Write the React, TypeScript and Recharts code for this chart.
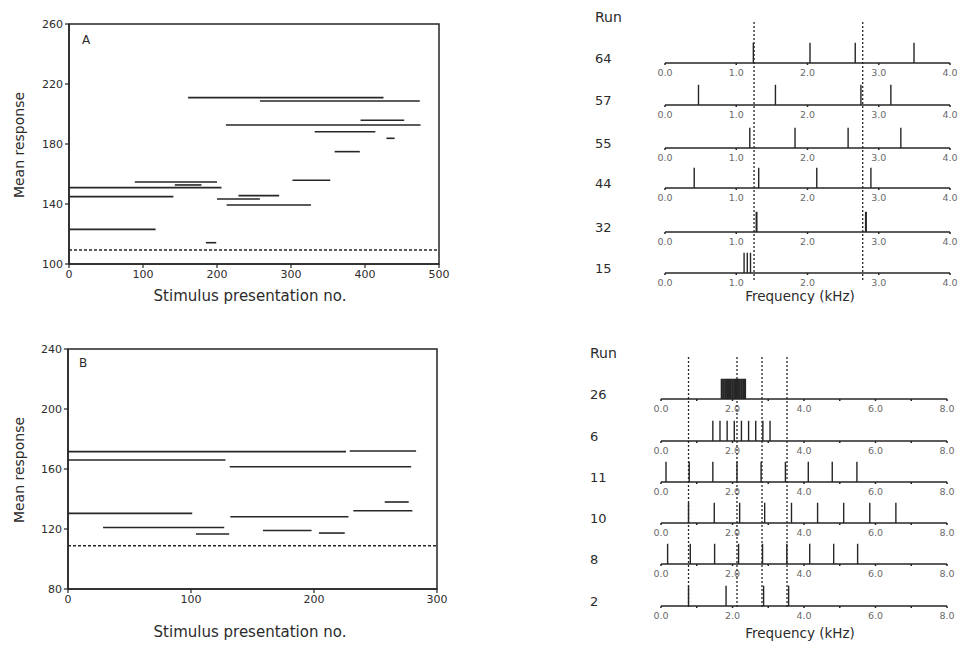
import React from 'react';
import { ComposedChart, Line, XAxis, YAxis, ReferenceArea } from 'recharts';

const FONT = '"DejaVu Sans", Verdana, sans-serif';
const INK = '#262626';

// ---------- Panel A: mean response segments ----------
const panelAStart = [161, 258, 394, 212, 332, 429, 359, 302, 89, 143, 0, 0, 229, 200, 213, 0, 185];
const panelAEnd = [425, 474, 453, 475, 414, 440, 393, 353, 200, 179, 206, 141, 284, 258, 327, 117, 199];
const panelAMean = [210.9, 208.7, 195.8, 192.7, 188.2, 183.8, 174.9, 155.8, 154.7, 152.7, 150.9, 144.9, 145.6, 143.3, 139.3, 123.1, 114.2];
const panelABaseline = 109.3;
const panelAXTicks = [0, 100, 200, 300, 400, 500];
const panelAYTicks = [100, 140, 180, 220, 260];

// ---------- Panel B: mean response segments ----------
const panelBStart = [0, 229, 0, 131.5, 257.5, 232, 0, 132, 28.5, 158.5, 204, 104];
const panelBEnd = [226, 283, 128, 279, 277, 280, 101, 228, 127, 198, 225, 131];
const panelBMean = [171.6, 172, 166, 161.5, 138, 132.2, 130.4, 128.2, 121, 119, 117.3, 116.7];
const panelBBaseline = 108.8;
const panelBXTicks = [0, 100, 200, 300];
const panelBYTicks = [80, 120, 160, 200, 240];

// ---------- Upper spectra (0-4 kHz) ----------
const upperRuns = ['64', '57', '55', '44', '32', '15'];
const run64 = [1.24, 2.035, 2.67, 3.495];
const run57 = [0.47, 1.55, 2.75, 3.17];
const run55 = [1.19, 1.825, 2.57, 3.31];
const run44 = [0.41, 1.315, 2.13, 2.89];
const run32 = [1.285, 2.82];
const run15 = [1.11, 1.155, 1.2];
const upperSpectra = [run64, run57, run55, run44, run32, run15];
const upperGuides = [1.25, 2.775];
const upperTicks = [0, 1, 2, 3, 4];

// ---------- Lower spectra (0-8 kHz) ----------
const lowerRuns = ['26', '6', '11', '10', '8', '2'];
const run26 = [1.7, 1.75, 1.8, 1.85, 1.9, 1.95, 2.0, 2.05, 2.1, 2.15, 2.2, 2.25, 2.3, 2.35];
const run6 = [1.45, 1.65, 1.85, 2.05, 2.25, 2.45, 2.65, 2.85, 3.05];
const run11 = [0.14, 0.79, 1.45, 2.125, 2.8, 3.48, 4.12, 4.79, 5.48];
const run10 = [0.77, 1.49, 2.2, 2.9, 3.65, 4.38, 5.11, 5.84, 6.57];
const run8 = [0.185, 0.82, 1.5, 2.17, 2.84, 3.52, 4.16, 4.83, 5.5];
const run2 = [0.77, 1.82, 2.87, 3.57];
const lowerSpectra = [run26, run6, run11, run10, run8, run2];
const lowerGuides = [0.77, 2.125, 2.825, 3.525];
const lowerTicks = [0, 1, 2, 3, 4, 5, 6, 7, 8];

// ---------- layout ----------
const upperBases = [63.3, 105, 147.7, 188.3, 231.7, 272.7];
const lowerBases = [399.3, 440.7, 481.7, 523.3, 564, 606];

type TextProps = { cx: number; cy: number; size: number; children: React.ReactNode; rotate?: boolean; color?: string; align?: 'left' | 'center' };

function Txt({ cx, cy, size, children, rotate, color, align }: TextProps) {
  const tx = align === 'left' ? '0' : '-50%';
  return (
    <div
      style={{
        position: 'absolute',
        left: cx,
        top: cy,
        transform: `translate(${tx}, -50%)${rotate ? ' rotate(-90deg)' : ''}`,
        fontFamily: FONT,
        fontSize: size,
        lineHeight: 1,
        color: color || '#2b2b2b',
        whiteSpace: 'nowrap',
      }}
    >
      {children}
    </div>
  );
}

type PanelProps = {
  left: number;
  top: number;
  margin: { top: number; right: number; left: number; bottom: number };
  xDomain: [number, number];
  yDomain: [number, number];
  xTicks: number[];
  yTicks: number[];
  starts: number[];
  ends: number[];
  means: number[];
  baseline: number;
};

function MeansPanel({ left, top, margin, xDomain, yDomain, xTicks, yTicks, starts, ends, means, baseline }: PanelProps) {
  const tickStyle = { fill: '#2b2b2b', fontSize: 11, fontFamily: FONT };
  return (
    <div style={{ position: 'absolute', left, top }}>
      <ComposedChart width={460} height={310} margin={margin}>
        <XAxis
          type="number"
          dataKey="x"
          domain={xDomain}
          ticks={xTicks}
          interval={0}
          height={30}
          tickSize={4}
          axisLine={{ stroke: INK, strokeWidth: 1.5 }}
          tickLine={{ stroke: INK, strokeWidth: 1.2 }}
          tick={tickStyle}
        />
        <YAxis
          type="number"
          domain={yDomain}
          ticks={yTicks}
          interval={0}
          width={40}
          tickSize={4}
          axisLine={{ stroke: INK, strokeWidth: 1.5 }}
          tickLine={{ stroke: INK, strokeWidth: 1.2 }}
          tick={tickStyle}
        />
        <ReferenceArea
          x1={xDomain[0]}
          x2={xDomain[1]}
          y1={yDomain[0]}
          y2={yDomain[1]}
          fill="none"
          fillOpacity={0}
          stroke={INK}
          strokeWidth={1.5}
          ifOverflow="visible"
        />
        {starts.map((s, i) => (
          <Line
            key={i}
            data={[
              { x: s, y: means[i] },
              { x: ends[i], y: means[i] },
            ]}
            dataKey="y"
            stroke={INK}
            strokeWidth={1.6}
            dot={false}
            activeDot={false}
            isAnimationActive={false}
          />
        ))}
        <Line
          data={[
            { x: xDomain[0], y: baseline },
            { x: xDomain[1], y: baseline },
          ]}
          dataKey="y"
          stroke={INK}
          strokeWidth={1.4}
          strokeDasharray="3 2"
          dot={false}
          activeDot={false}
          isAnimationActive={false}
        />
      </ComposedChart>
    </div>
  );
}

type RowProps = {
  left: number;
  top: number;
  mLeft: number;
  mRight: number;
  xMax: number;
  ticks: number[];
  labelEvery: number;
  freqs: number[];
  stickWidth: number;
};

function SpectrumRow({ left, top, mLeft, mRight, xMax, ticks, labelEvery, freqs, stickWidth }: RowProps) {
  return (
    <div style={{ position: 'absolute', left, top }}>
      <ComposedChart width={310} height={42} margin={{ top: 2, right: mRight, left: mLeft, bottom: 0 }}>
        <XAxis
          type="number"
          dataKey="x"
          domain={[0, xMax]}
          ticks={ticks}
          interval={0}
          height={18}
          tickSize={2}
          tickMargin={4}
          tickFormatter={(v: number) => (v % labelEvery === 0 ? v.toFixed(1) : '')}
          axisLine={{ stroke: INK, strokeWidth: 1.5 }}
          tickLine={{ stroke: INK, strokeWidth: 1.5 }}
          tick={{ fill: '#6a6a6a', fontSize: 9.5, fontFamily: FONT }}
        />
        <YAxis hide type="number" domain={[0, 1]} />
        {freqs.map((f, i) => (
          <Line
            key={i}
            data={[
              { x: f, y: 0 },
              { x: f, y: 0.92 },
            ]}
            dataKey="y"
            stroke={INK}
            strokeWidth={stickWidth}
            dot={false}
            activeDot={false}
            isAnimationActive={false}
          />
        ))}
      </ComposedChart>
    </div>
  );
}

type GuideProps = { left: number; top: number; height: number; mLeft: number; mRight: number; xMax: number; freqs: number[] };

function Guides({ left, top, height, mLeft, mRight, xMax, freqs }: GuideProps) {
  return (
    <div style={{ position: 'absolute', left, top, pointerEvents: 'none' }}>
      <ComposedChart width={310} height={height} margin={{ top: 0, right: mRight, left: mLeft, bottom: 0 }}>
        <XAxis hide type="number" dataKey="x" domain={[0, xMax]} />
        <YAxis hide type="number" domain={[0, 1]} />
        {freqs.map((f, i) => (
          <Line
            key={i}
            data={[
              { x: f, y: 0 },
              { x: f, y: 1 },
            ]}
            dataKey="y"
            stroke={INK}
            strokeWidth={1.3}
            strokeDasharray="2 2"
            dot={false}
            activeDot={false}
            isAnimationActive={false}
          />
        ))}
      </ComposedChart>
    </div>
  );
}

export default function App() {
  return (
    <div style={{ position: 'absolute', left: 0, top: 0, width: 960, height: 645, background: '#fff', overflow: 'hidden' }}>
      {/* Panel A */}
      <MeansPanel
        left={0}
        top={0}
        margin={{ top: 24, right: 21, left: 29, bottom: 16 }}
        xDomain={[0, 500]}
        yDomain={[100, 260]}
        xTicks={panelAXTicks}
        yTicks={panelAYTicks}
        starts={panelAStart}
        ends={panelAEnd}
        means={panelAMean}
        baseline={panelABaseline}
      />
      <Txt cx={86} cy={40} size={12}>A</Txt>
      <Txt cx={19} cy={145} size={14} rotate>Mean response</Txt>
      <Txt cx={250} cy={296} size={15}>Stimulus presentation no.</Txt>

      {/* Panel B */}
      <MeansPanel
        left={0}
        top={325}
        margin={{ top: 24, right: 23, left: 28, bottom: 16 }}
        xDomain={[0, 300]}
        yDomain={[80, 240]}
        xTicks={panelBXTicks}
        yTicks={panelBYTicks}
        starts={panelBStart}
        ends={panelBEnd}
        means={panelBMean}
        baseline={panelBBaseline}
      />
      <Txt cx={83} cy={363} size={12}>B</Txt>
      <Txt cx={19} cy={470} size={14} rotate>Mean response</Txt>
      <Txt cx={250} cy={632} size={15}>Stimulus presentation no.</Txt>

      {/* Upper spectra */}
      <Txt cx={595} cy={17} size={14} align="left">Run</Txt>
      {upperSpectra.map((freqs, i) => (
        <React.Fragment key={i}>
          <Txt cx={595} cy={upperBases[i] - 5} size={13} align="left">{upperRuns[i]}</Txt>
          <SpectrumRow
            left={650}
            top={Math.round(upperBases[i] - 24)}
            mLeft={15}
            mRight={10}
            xMax={4}
            ticks={upperTicks}
            labelEvery={1}
            freqs={freqs}
            stickWidth={upperRuns[i] === '32' ? 2 : 1.4}
          />
        </React.Fragment>
      ))}
      <Guides left={650} top={20} height={260} mLeft={15} mRight={10} xMax={4} freqs={upperGuides} />
      <Txt cx={800} cy={297} size={13.5}>Frequency (kHz)</Txt>

      {/* Lower spectra */}
      <Txt cx={590} cy={353} size={14} align="left">Run</Txt>
      {lowerSpectra.map((freqs, i) => (
        <React.Fragment key={i}>
          <Txt cx={590} cy={lowerBases[i] - 5} size={13} align="left">{lowerRuns[i]}</Txt>
          <SpectrumRow
            left={646}
            top={Math.round(lowerBases[i] - 24)}
            mLeft={15}
            mRight={9}
            xMax={8}
            ticks={lowerTicks}
            labelEvery={2}
            freqs={freqs}
            stickWidth={i === 0 ? 2.2 : 1.4}
          />
        </React.Fragment>
      ))}
      <Guides left={646} top={355} height={252} mLeft={15} mRight={9} xMax={8} freqs={lowerGuides} />
      <Txt cx={800} cy={634} size={13.5}>Frequency (kHz)</Txt>
    </div>
  );
}
